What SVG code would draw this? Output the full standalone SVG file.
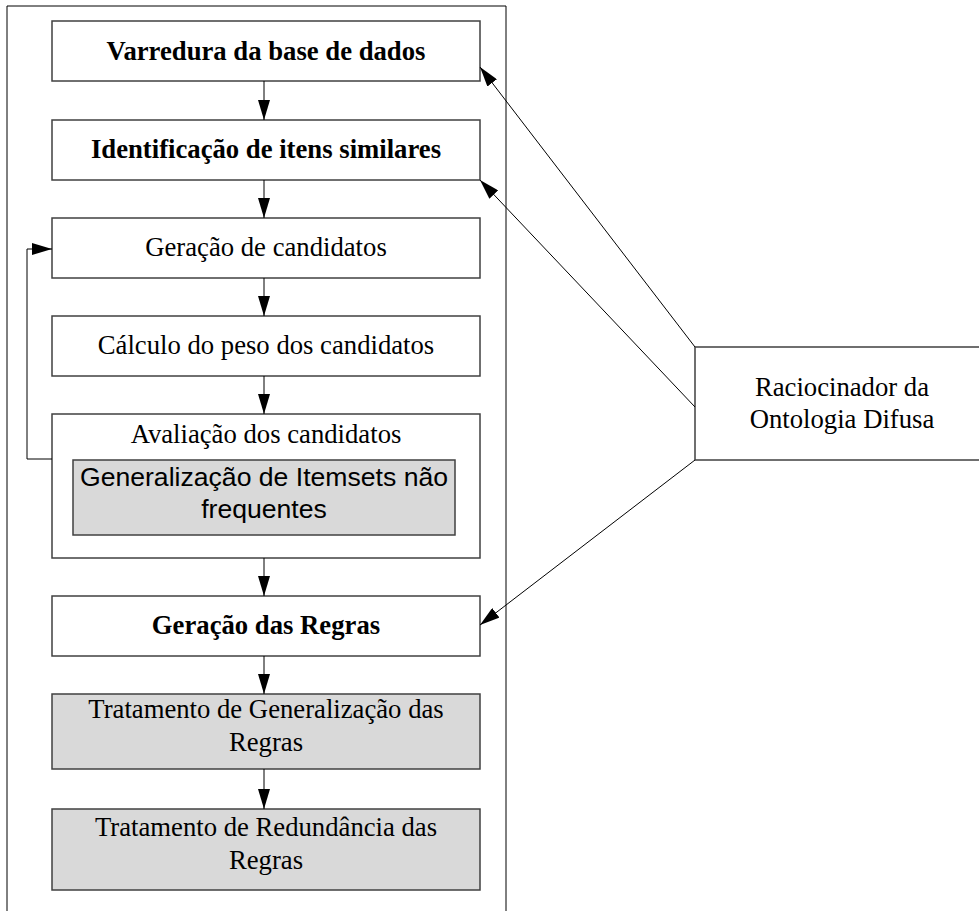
<svg xmlns="http://www.w3.org/2000/svg" width="979" height="911" viewBox="0 0 979 911">
<style>
.box{fill:#ffffff;stroke:#404040;stroke-width:1.5}
.gray{fill:#d9d9d9;stroke:#404040;stroke-width:1.5}
.frame{fill:none;stroke:#000;stroke-width:1}
.t{font-family:"Liberation Serif","Times New Roman",serif;font-size:26.7px;fill:#000;text-anchor:middle}
.b{font-weight:bold}
.s{font-family:"Liberation Sans",Arial,sans-serif;font-size:26.6px;fill:#000;text-anchor:middle}
.c{fill:none;stroke:#000;stroke-width:1}
</style>
<defs>
<marker id="ah" viewBox="0 0 20 12" refX="20" refY="6" markerWidth="20" markerHeight="12" markerUnits="userSpaceOnUse" orient="auto">
<path d="M0,0 L20,6 L0,12 Z" fill="#000"/>
</marker>
</defs>
<g id="frame"><path class="frame" d="M7,911 V6 H506 V911"/></g>
<g id="n1"><rect class="box" x="52" y="21" width="428" height="60"/><text class="t b" x="266" y="60">Varredura da base de dados</text></g>
<g id="n2"><rect class="box" x="52" y="120" width="428" height="60"/><text class="t b" x="266" y="158">Identificação de itens similares</text></g>
<g id="n3"><rect class="box" x="52" y="218" width="428" height="60"/><text class="t" x="266" y="256">Geração de candidatos</text></g>
<g id="n4"><rect class="box" x="52" y="316" width="428" height="60"/><text class="t" x="266" y="354">Cálculo do peso dos candidatos</text></g>
<g id="n5"><rect class="box" x="52" y="414" width="428" height="144"/><text class="t" x="266" y="443">Avaliação dos candidatos</text>
<g id="n5a"><rect class="gray" x="73" y="460" width="382" height="75"/><text class="s" x="264" y="486">Generalização de Itemsets não</text><text class="s" x="264" y="518">frequentes</text></g></g>
<g id="n6"><rect class="box" x="52" y="596" width="428" height="60"/><text class="t b" x="266" y="634">Geração das Regras</text></g>
<g id="n7"><rect class="gray" x="52" y="694" width="428" height="75"/><text class="t" x="266" y="718">Tratamento de Generalização das</text><text class="t" x="266" y="751">Regras</text></g>
<g id="n8"><rect class="gray" x="52" y="809" width="428" height="81"/><text class="t" x="266" y="836">Tratamento de Redundância das</text><text class="t" x="266" y="869">Regras</text></g>
<g id="n9"><rect class="box" x="695" y="347" width="300" height="113"/><text class="t" x="842" y="396">Raciocinador da</text><text class="t" x="842" y="428">Ontologia Difusa</text></g>
<g id="connectors">
<line class="c" x1="264" y1="81" x2="264" y2="120" marker-end="url(#ah)"/>
<line class="c" x1="264" y1="180" x2="264" y2="218" marker-end="url(#ah)"/>
<line class="c" x1="264" y1="278" x2="264" y2="316" marker-end="url(#ah)"/>
<line class="c" x1="264" y1="376" x2="264" y2="414" marker-end="url(#ah)"/>
<line class="c" x1="264" y1="558" x2="264" y2="596" marker-end="url(#ah)"/>
<line class="c" x1="264" y1="656" x2="264" y2="694" marker-end="url(#ah)"/>
<line class="c" x1="264" y1="769" x2="264" y2="809" marker-end="url(#ah)"/>
<path class="c" d="M52,459 H27 V249 H52" marker-end="url(#ah)"/>
<line class="c" x1="695" y1="347" x2="480" y2="67" marker-end="url(#ah)"/>
<line class="c" x1="695" y1="407" x2="480" y2="180" marker-end="url(#ah)"/>
<line class="c" x1="695" y1="460" x2="480" y2="625" marker-end="url(#ah)"/>
</g>
</svg>
